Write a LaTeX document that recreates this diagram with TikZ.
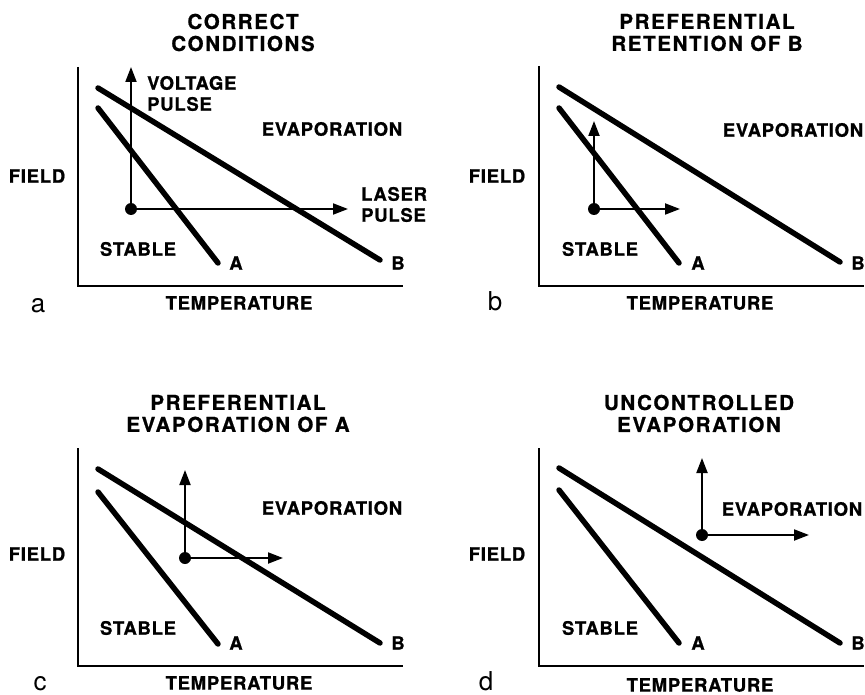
\documentclass[tikz,border=0pt]{standalone}
\usepackage{fontspec}
\setmainfont{TeX Gyre Heros}
\newfontfamily\lblfont[LetterSpace=4,BoldFeatures={FakeBold=0.9}]{TeX Gyre Heros}
\newfontfamily\ttlfont[LetterSpace=8,BoldFeatures={FakeBold=0.9}]{TeX Gyre Heros}
\usetikzlibrary{arrows.meta}
\begin{document}
\begin{tikzpicture}[x=1pt,y=-1pt,
  lbl/.style={font=\lblfont\bfseries\fontsize{18.5}{21}\selectfont, inner sep=0pt},
  ttl/.style={font=\ttlfont\bfseries\fontsize{20.5}{22}\selectfont, inner sep=0pt, align=center},
  tag/.style={font=\fontsize{26}{26}\selectfont, inner sep=0pt, anchor=base},
  axisline/.style={line width=2.3pt},
  bound/.style={line width=5.5pt, line cap=round},
  pulse/.style={line width=2pt, -{Triangle[length=15pt,width=11pt]}},
  dot/.style={circle, fill=black, inner sep=0pt, minimum size=12pt},
]
\useasboundingbox (0,0) rectangle (865,695);

% ---------- panel a ----------
\node[ttl] (a-title) at (243,32.5) {CORRECT\\CONDITIONS};
\coordinate (a-ytop) at (78,67);
\coordinate (a-orig) at (78,286);
\coordinate (a-xend) at (403,286);
\draw[axisline] (a-ytop) -- (a-orig) -- (a-xend);
\coordinate (a-B1) at (98,88);  \coordinate (a-B2) at (380,260);
\coordinate (a-A1) at (98,108); \coordinate (a-A2) at (218,263);
\draw[bound] (a-B1) -- (a-B2);
\draw[bound] (a-A1) -- (a-A2);
\node[dot] (a-dot) at (131,209) {};
\coordinate (a-up) at (131,67);
\coordinate (a-rt) at (348,209);
\draw[pulse] (a-dot.center) -- (a-up);
\draw[pulse] (a-dot.center) -- (a-rt);
\node[lbl, anchor=west, align=left] (a-volt) at (147,93.5) {VOLTAGE\\PULSE};
\node[lbl] (a-evap) at (332,129) {EVAPORATION};
\node[lbl, anchor=west, align=left] (a-laser) at (361,204.5) {LASER\\PULSE};
\node[lbl] (a-field) at (37,176) {FIELD};
\node[lbl] (a-stable) at (138,249) {STABLE};
\node[lbl] (a-A) at (236,263) {A};
\node[lbl] (a-B) at (398,263) {B};
\node[tag] (a-tag) at (38,312) {a};
\node[lbl] (a-temp) at (239,303) {TEMPERATURE};

% ---------- panel b ----------
\node[ttl] (b-title) at (707,32.5) {PREFERENTIAL\\RETENTION OF B};
\coordinate (b-ytop) at (539,66);
\coordinate (b-orig) at (539,286);
\coordinate (b-xend) at (864,286);
\draw[axisline] (b-ytop) -- (b-orig) -- (b-xend);
\coordinate (b-B1) at (559,87);  \coordinate (b-B2) at (840,262);
\coordinate (b-A1) at (559,108); \coordinate (b-A2) at (679,263);
\draw[bound] (b-B1) -- (b-B2);
\draw[bound] (b-A1) -- (b-A2);
\node[dot] (b-dot) at (594,209) {};
\coordinate (b-up) at (594,121);
\coordinate (b-rt) at (680,209);
\draw[pulse] (b-dot.center) -- (b-up);
\draw[pulse] (b-dot.center) -- (b-rt);
\node[lbl] (b-evap) at (793,130) {EVAPORATION};
\node[lbl] (b-field) at (497,176) {FIELD};
\node[lbl] (b-stable) at (600,249) {STABLE};
\node[lbl] (b-A) at (698,263) {A};
\node[lbl] (b-B) at (858,263) {B};
\node[tag] (b-tag) at (495,310) {b};
\node[lbl] (b-temp) at (700,303) {TEMPERATURE};

% ---------- panel c ----------
\node[ttl] (c-title) at (238,413.5) {PREFERENTIAL\\EVAPORATION OF A};
\coordinate (c-ytop) at (78,448);
\coordinate (c-orig) at (78,666);
\coordinate (c-xend) at (403,666);
\draw[axisline] (c-ytop) -- (c-orig) -- (c-xend);
\coordinate (c-B1) at (98,469);  \coordinate (c-B2) at (380,643);
\coordinate (c-A1) at (98,492);  \coordinate (c-A2) at (218,644);
\draw[bound] (c-B1) -- (c-B2);
\draw[bound] (c-A1) -- (c-A2);
\node[dot] (c-dot) at (185,558) {};
\coordinate (c-up) at (185,470);
\coordinate (c-rt) at (283,558);
\draw[pulse] (c-dot.center) -- (c-up);
\draw[pulse] (c-dot.center) -- (c-rt);
\node[lbl] (c-evap) at (332,508) {EVAPORATION};
\node[lbl] (c-field) at (37,554) {FIELD};
\node[lbl] (c-stable) at (138,628) {STABLE};
\node[lbl] (c-A) at (236,643) {A};
\node[lbl] (c-B) at (398,643) {B};
\node[tag] (c-tag) at (40,690) {c};
\node[lbl] (c-temp) at (239,683) {TEMPERATURE};

% ---------- panel d ----------
\node[ttl] (d-title) at (699,413.5) {UNCONTROLLED\\EVAPORATION};
\coordinate (d-ytop) at (539,448);
\coordinate (d-orig) at (539,666);
\coordinate (d-xend) at (864,666);
\draw[axisline] (d-ytop) -- (d-orig) -- (d-xend);
\coordinate (d-B1) at (559,468);  \coordinate (d-B2) at (840,643);
\coordinate (d-A1) at (559,490);  \coordinate (d-A2) at (679,643);
\draw[bound] (d-B1) -- (d-B2);
\draw[bound] (d-A1) -- (d-A2);
\node[dot] (d-dot) at (702,535) {};
\coordinate (d-up) at (702,458);
\coordinate (d-rt) at (809,535);
\draw[pulse] (d-dot.center) -- (d-up);
\draw[pulse] (d-dot.center) -- (d-rt);
\node[lbl] (d-evap) at (792,509) {EVAPORATION};
\node[lbl] (d-field) at (497,554) {FIELD};
\node[lbl] (d-stable) at (600,628) {STABLE};
\node[lbl] (d-A) at (698,643) {A};
\node[lbl] (d-B) at (858,643) {B};
\node[tag] (d-tag) at (486,690) {d};
\node[lbl] (d-temp) at (700,685) {TEMPERATURE};
\end{tikzpicture}
\end{document}
